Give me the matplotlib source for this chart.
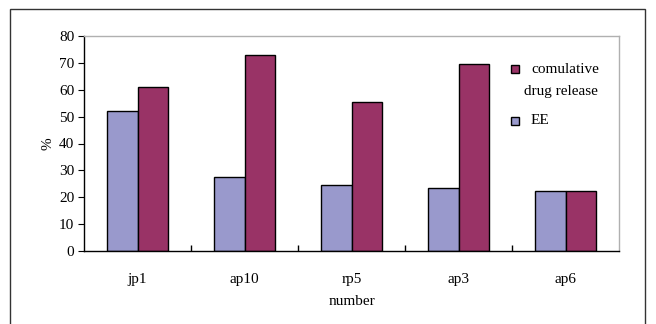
import numpy as np
import matplotlib
matplotlib.use("Agg")
import matplotlib.pyplot as plt
from matplotlib.patches import Rectangle

# data
samples = ["jp1", "ap10", "rp5", "ap3", "ap6"]
ee = [52.0, 27.5, 24.5, 23.5, 22.5]
release = [61.0, 73.0, 55.3, 69.4, 22.5]

ee_color = "#9999cc"
rel_color = "#993366"

plt.rcParams["font.family"] = ["Liberation Serif", "DejaVu Serif"]
fs = 11

W, H = 656, 324
fig = plt.figure(figsize=(W / 100, H / 100), dpi=100)
ax = fig.add_axes([84 / W, 1 - 251 / H, (619 - 84) / W, (251 - 36) / H])

# outer frame of the chart (bottom edge runs off the picture)
fig.patches.append(Rectangle((10 / W, -5 / H), 635 / W, (315 + 5) / H,
                             transform=fig.transFigure, fill=False,
                             edgecolor="#333333", linewidth=1.0))

x = np.arange(len(samples))
w = 0.285
ax.bar(x - w / 2, ee, w, color=ee_color, edgecolor="black", linewidth=1.0,
       zorder=2)
ax.bar(x + w / 2, release, w, color=rel_color, edgecolor="black", linewidth=1.0,
       zorder=2)

ax.set_xlim(-0.5, len(samples) - 0.5)
ax.set_ylim(0, 80)
ax.set_yticks(range(0, 81, 10))
ax.set_xticks(x)
ax.set_xticklabels(samples, fontsize=fs)
ax.tick_params(axis="x", length=0, pad=16)
ax.set_xticks(np.arange(0.5, len(samples) - 0.5), minor=True)
ax.tick_params(axis="x", which="minor", direction="in", length=4, width=1)
ax.tick_params(axis="y", direction="out", length=4, labelsize=fs, pad=3)

for s in ["left", "bottom"]:
    ax.spines[s].set_color("black")
    ax.spines[s].set_linewidth(1.0)
for s in ["top", "right"]:
    ax.spines[s].set_color("#b0b0b0")
    ax.spines[s].set_linewidth(1.0)

ax.set_xlabel("number", fontsize=fs, labelpad=6)
ax.set_ylabel("%", fontsize=fs, labelpad=3)

# legend drawn by hand so the marker sits on the first text line
def fx(px):
    return px / W

def fy(py):
    return 1 - py / H

for top, col in [(65, rel_color), (117, ee_color)]:
    fig.patches.append(Rectangle((fx(511), fy(top + 8)), 8 / W, 8 / H,
                                 transform=fig.transFigure, facecolor=col,
                                 edgecolor="black", linewidth=1.0))
fig.text(fx(531), fy(69), "comulative", fontsize=fs, va="center", ha="left")
fig.text(fx(524), fy(91), "drug release", fontsize=fs, va="center", ha="left")
fig.text(fx(531), fy(121), "EE", fontsize=fs, va="center", ha="left")

fig.savefig("out.png", dpi=100)
